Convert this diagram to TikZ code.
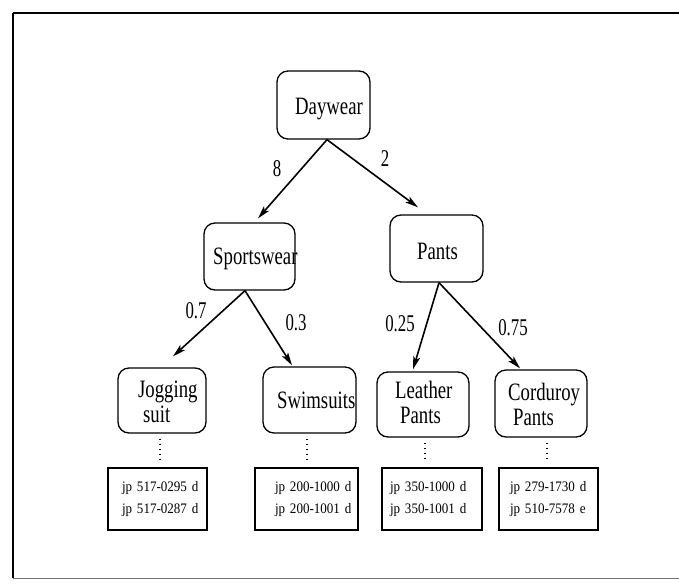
\documentclass[tikz,border=0pt]{standalone}
\usepackage{fontspec}
\setmainfont{Liberation Serif}
\newfontfamily\catfont[FakeStretch=0.75]{Liberation Serif}
\newfontfamily\numfont[FakeStretch=0.7]{Liberation Serif}
\newfontfamily\idfont[FakeStretch=0.9]{Liberation Serif}
\usetikzlibrary{arrows.meta}
\begin{document}
\begin{tikzpicture}[x=1pt,y=-1pt,
  catbox/.style={draw, line width=1.3pt, rounded corners=11pt, inner sep=0pt},
  cattext/.style={inner sep=0pt, anchor=north west, align=left,
    font=\catfont\fontsize{25}{25}\selectfont},
  numtext/.style={inner sep=0pt, font=\numfont\fontsize{24}{24}\selectfont},
  idbox/.style={draw, line width=1.2pt, minimum height=62pt, inner ysep=0pt,
    align=left, font=\idfont\fontsize{14.5}{22}\selectfont},
  arr/.style={line width=1.6pt, -{Stealth[length=13pt,width=7pt,inset=3pt]}},
  dotline/.style={line width=1.3pt, dash pattern=on 1.6pt off 3.4pt,
    shorten <=5pt, shorten >=5pt}]
\useasboundingbox (0,0) rectangle (679,584);

% frame
\draw[line width=1.8pt] (13,13) -- (679,13);
\draw[line width=1.4pt] (13,13) -- (13,578);
\draw[line width=0.8pt, black!55] (13,578) -- (679,578);

% category boxes
\node[catbox, minimum width=93pt, minimum height=68pt] (day)   at (323.5,105)   {};
\node[catbox, minimum width=91pt, minimum height=67pt] (sport) at (249.5,256.5) {};
\node[catbox, minimum width=93pt, minimum height=67pt] (pants) at (436.5,248.5) {};
\node[catbox, minimum width=88pt, minimum height=65pt] (jog)   at (162,400.5)   {};
\node[catbox, minimum width=93pt, minimum height=66pt] (swim)  at (309.5,400)   {};
\node[catbox, minimum width=92pt, minimum height=65pt] (leath) at (423,404.5)   {};
\node[catbox, minimum width=92pt, minimum height=67pt] (cord)  at (541,403.5)   {};

% category names (top = baseline - 18)
\node[cattext] (daytxt)   at (295,96)  {\rule{0pt}{18pt}Daywear};
\node[cattext] (sporttxt) at (213,246) {\rule{0pt}{18pt}Sportswear};
\node[cattext] (pantstxt) at (417,241) {\rule{0pt}{18pt}Pants};
\node[cattext] (jogtxt)   at (138,379) {\rule{0pt}{18pt}Jogging\\\hspace*{5pt}suit};
\node[cattext] (swimtxt)  at (277,390) {\rule{0pt}{18pt}Swimsuits};
\node[cattext] (leathtxt) at (395,380) {\rule{0pt}{18pt}Leather\\\hspace*{5pt}Pants};
\node[cattext] (cordtxt)  at (508,382) {\rule{0pt}{18pt}Corduroy\\\hspace*{5pt}Pants};

% item boxes
\node[idbox, text width=71pt, inner xsep=14pt] (jogid)   at (157.5,499)
  {\mbox{jp 517-0295 d}\\\mbox{jp 517-0287 d}};
\node[idbox, text width=63pt, inner xsep=20pt] (swimid)  at (306.5,499)
  {\mbox{jp 200-1000 d}\\\mbox{jp 200-1001 d}};
\node[idbox, text width=84pt, inner xsep=8pt]  (leathid) at (432,499)
  {\mbox{jp 350-1000 d}\\\mbox{jp 350-1001 d}};
\node[idbox, text width=77pt, inner xsep=11pt] (cordid)  at (548.5,499)
  {\mbox{jp 279-1730 d}\\\mbox{jp 510-7578 e}};

% weighted arrows
\draw[arr] ([xshift=3.5pt]day.south) -- ([xshift=8.5pt,yshift=4pt]sport.north);
\draw[arr] ([xshift=3.5pt]day.south) -- ([xshift=-18.5pt,yshift=7pt]pants.north);
\draw[arr] ([xshift=-4.5pt]sport.south) -- ([xshift=11pt,yshift=11pt]jog.north);
\draw[arr] ([xshift=-4.5pt]sport.south) -- ([xshift=-17.5pt,yshift=1pt]swim.north);
\draw[arr] ([xshift=2.5pt]pants.south) -- ([xshift=-10pt,yshift=2pt]leath.north);
\draw[arr] ([xshift=2.5pt]pants.south) -- ([xshift=-21pt,yshift=1pt]cord.north);

% weights
\node[numtext] (w8)   at (277,169) {8};
\node[numtext] (w2)   at (385,159) {2};
\node[numtext] (w07)  at (196,311) {0.7};
\node[numtext] (w03)  at (296,323) {0.3};
\node[numtext] (w025) at (400,324) {0.25};
\node[numtext] (w075) at (513,328) {0.75};

% dotted links to the item boxes
\coordinate (jogdot)   at ([xshift=-2pt]jog.south);
\coordinate (swimdot)  at ([xshift=-2.5pt]swim.south);
\coordinate (leathdot) at ([xshift=2pt]leath.south);
\coordinate (corddot)  at ([xshift=6pt]cord.south);
\draw[dotline] (jogdot)   -- (jogdot |- jogid.north);
\draw[dotline] (swimdot)  -- (swimdot |- swimid.north);
\draw[dotline] (leathdot) -- (leathdot |- leathid.north);
\draw[dotline] (corddot)  -- (corddot |- cordid.north);
\end{tikzpicture}
\end{document}
